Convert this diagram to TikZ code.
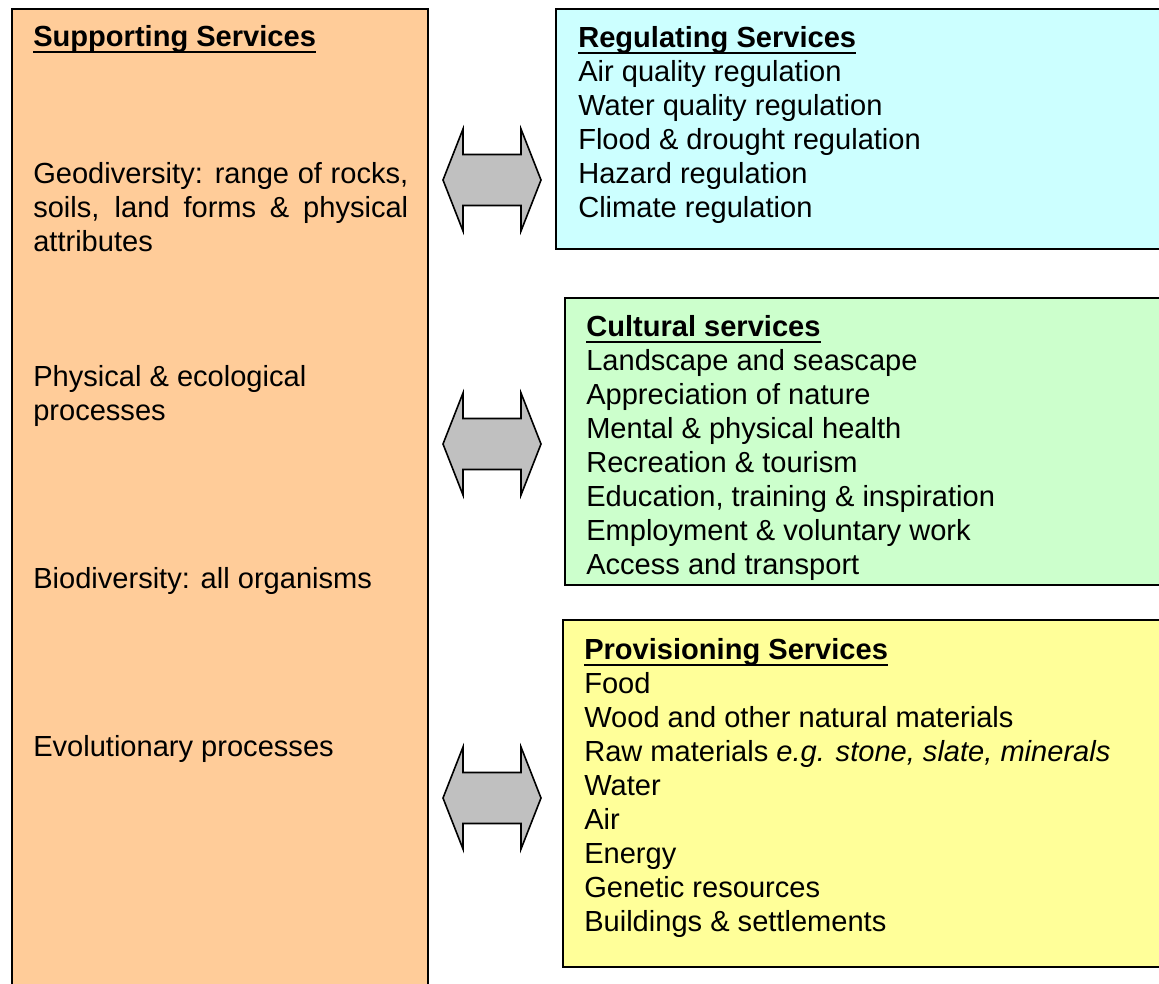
\documentclass[tikz,border=0pt]{standalone}
\usepackage{fontspec}
\setmainfont{Liberation Sans}
\usepackage{tikz}

\definecolor{suppcol}{HTML}{FFCC99}
\definecolor{regcol}{HTML}{CCFFFF}
\definecolor{cultcol}{HTML}{CCFFCC}
\definecolor{provcol}{HTML}{FFFF99}
\definecolor{arrcol}{HTML}{C0C0C0}

\newcommand{\bodyfont}{\fontsize{21.8}{25.5}\selectfont}
\tikzset{
  box/.style={draw=black, line width=1.5pt},
  item/.style={anchor=base west, inner sep=0pt},
  title/.style={item, font=\bodyfont\bfseries},
  dualarrow/.style={draw=black, line width=1.2pt, fill=arrcol, line join=miter}
}
\newsavebox{\titlebox}
\newcommand{\boxtitle}[1]{\sbox{\titlebox}{#1}\rlap{\rule[-5.4pt]{\wd\titlebox}{1.8pt}}\usebox{\titlebox}}

\begin{document}
\begin{tikzpicture}[x=0.75pt, y=-0.75pt, font=\bodyfont]
	\useasboundingbox (0,0) rectangle (1159,983);
	% boxes
	\draw[box, fill=suppcol] (12,9) rectangle (428,995);
	\draw[box, fill=regcol] (556,9) rectangle (1170,249);
	\draw[box, fill=cultcol] (565,298) rectangle (1170,585);
	\draw[box, fill=provcol] (563,620) rectangle (1170,967);
	
	% supporting services
	\node[title] (ST) at (33,46) {\boxtitle{Supporting Services}};
	\node[item] (S1) at (33,183) {\makebox[281.25pt][s]{Geodiversity: range of rocks,}};
	\node[item] (S2) at (33,217) {\makebox[281.25pt][s]{soils, land forms \& physical}};
	\node[item] (S3) at (33,251) {attributes};
	\node[item] (S4) at (33,386) {Physical \& ecological};
	\node[item] (S5) at (33,420) {processes};
	\node[item] (S6) at (33,588) {Biodiversity: all organisms};
	\node[item] (S7) at (33,756) {Evolutionary processes};
	
	% regulating services
	\node[title] (RT) at (578,47) {\boxtitle{Regulating Services}};
	\foreach \t [count=\i] in {Air quality regulation, Water quality regulation,
		Flood \& drought regulation, Hazard regulation, Climate regulation}
		\node[item] (R\i) at (578,{47+34*\i}) {\t};
	
	% cultural services
	\node[title] (CT) at (586,336) {\boxtitle{Cultural services}};
	\foreach \t [count=\i] in {Landscape and seascape, Appreciation of nature,
		Mental \& physical health, Recreation \& tourism,
		{Education, training \& inspiration}, Employment \& voluntary work,
		Access and transport}
		\node[item] (C\i) at (586,{336+34*\i}) {\t};
	
	% provisioning services
	\node[title] (PT) at (584,659) {\boxtitle{Provisioning Services}};
	\foreach \t [count=\i] in {Food, Wood and other natural materials,
		{Raw materials \textit{e.g. stone, slate, minerals}}, Water, Air, Energy,
		Genetic resources, Buildings \& settlements}
		\node[item] (P\i) at (584,{659+34*\i}) {\t};
	
	% double block arrows
	\foreach \yc in {180,444,798}
		\draw[dualarrow, shift={(0,\yc)}] (443,0) -- (463,-51) -- (463,-25.5)
		-- (521,-25.5) -- (521,-51) -- (541,0) -- (521,51) -- (521,25.5)
		-- (463,25.5) -- (463,51) -- cycle;
\end{tikzpicture}
\end{document}
